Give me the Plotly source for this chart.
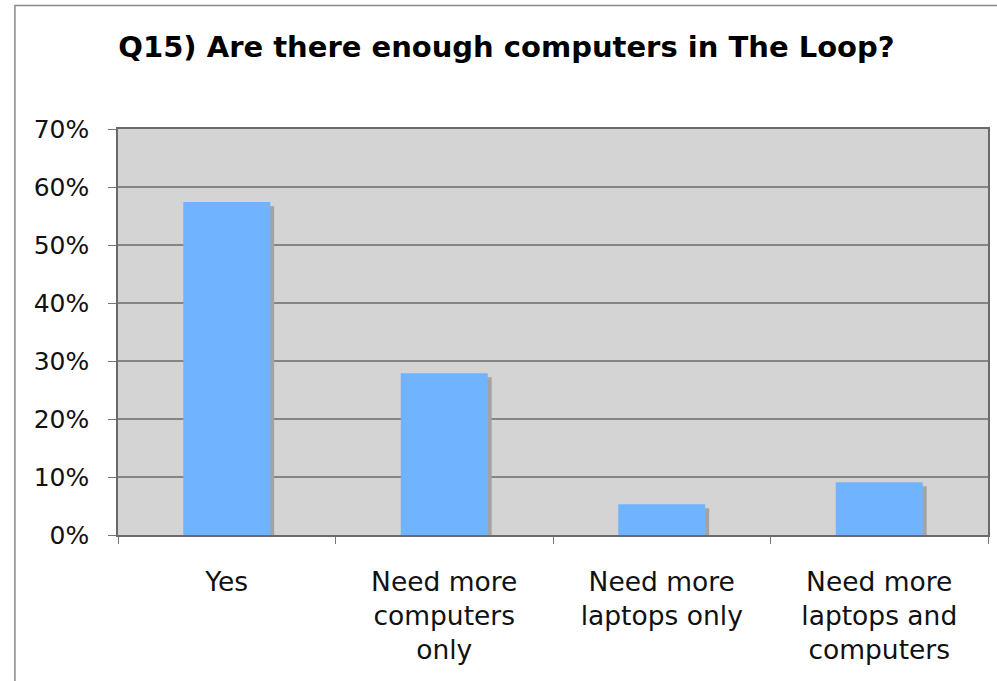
import plotly.graph_objects as go

# Survey responses (share of respondents, %)
categories = ["Yes", "Need more computers only", "Need more laptops only", "Need more laptops and computers"]
tick_labels = ["Yes", "Need more<br>computers<br>only", "Need more<br>laptops only", "Need more<br>laptops and<br>computers"]
shares = [57.4, 27.9, 5.3, 9.1]
y_ticks = [0, 10, 20, 30, 40, 50, 60, 70]
y_tick_labels = [f"{t}%" for t in y_ticks]

title_text = "Q15) Are there enough computers in The Loop?"

BAR_COLOR = "#70b4ff"
SHADOW_COLOR = "#a3a3a3"
PLOT_BG = "#d4d4d4"
GRID = "#858585"
FONT = "DejaVu Sans"

BAR_W = 0.4
SHADOW_DX = 0.018   # shadow shift to the right, in category units
SHADOW_DY = 0.7     # shadow drop, in % units

fig = go.Figure()

# drop shadow behind each bar
fig.add_trace(go.Bar(
    x=categories,
    y=[v - SHADOW_DY for v in shares],
    width=BAR_W,
    offset=-BAR_W / 2 + SHADOW_DX,
    marker=dict(color=SHADOW_COLOR, line=dict(width=0)),
    hoverinfo="skip",
    showlegend=False,
))

fig.add_trace(go.Bar(
    x=categories,
    y=shares,
    width=BAR_W,
    offset=-BAR_W / 2,
    marker=dict(color=BAR_COLOR, line=dict(width=0)),
    showlegend=False,
))

fig.update_layout(
    width=997,
    height=681,
    margin=dict(l=118, r=7, t=129, b=146),
    paper_bgcolor="white",
    plot_bgcolor=PLOT_BG,
    barmode="overlay",
    font=dict(family=FONT, color="#111111", size=25),
    title=dict(
        text="<b>" + title_text + "</b>",
        x=0.508,
        xanchor="center",
        y=0.931,
        yanchor="middle",
        font=dict(family=FONT, size=29, color="#000000"),
    ),
    xaxis=dict(
        tickmode="array",
        tickvals=categories,
        ticktext=tick_labels,
        tickson="boundaries",
        ticks="outside",
        ticklen=7,
        tickcolor="#777777",
        ticklabelstandoff=22,
        showgrid=False,
        showline=True,
        linecolor="#6a6a6a",
        linewidth=1.5,
        mirror=True,
        tickfont=dict(size=26.5),
    ),
    yaxis=dict(
        range=[0, 70],
        tickmode="array",
        tickvals=y_ticks,
        ticktext=y_tick_labels,
        ticks="outside",
        ticklen=8,
        tickcolor="#777777",
        ticklabelstandoff=14,
        showgrid=True,
        gridcolor=GRID,
        gridwidth=1.5,
        showline=True,
        linecolor="#6a6a6a",
        linewidth=1.5,
        mirror=True,
        zeroline=False,
        tickfont=dict(size=25),
    ),
    shapes=[
        # frame around the chart (left and top edges visible)
        dict(type="rect", xref="paper", yref="paper",
             x0=-0.1185, x1=1.2, y0=-0.5, y1=1.304,
             line=dict(color="#888888", width=1.5), layer="below"),
    ],
)

fig.write_html("out.html")
